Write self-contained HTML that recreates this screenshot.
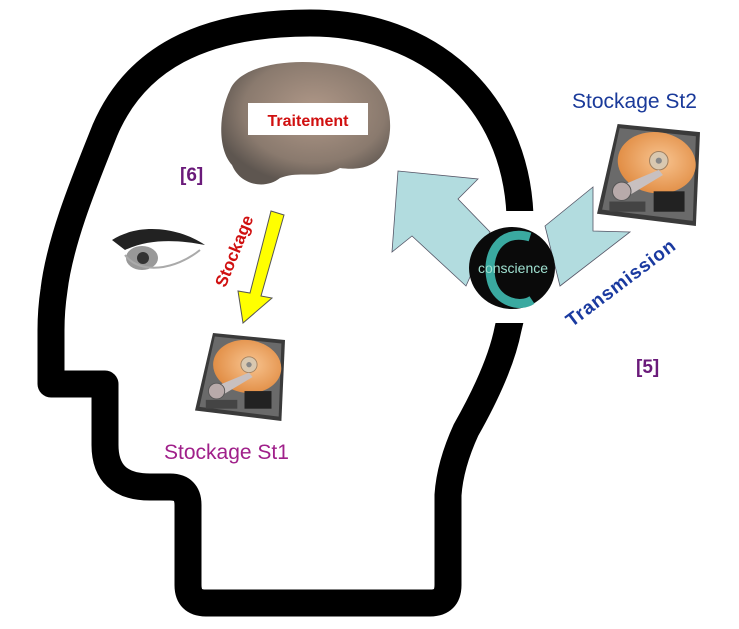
<!DOCTYPE html>
<html><head><meta charset="utf-8"><style>
html,body{margin:0;padding:0;background:#fff;}
svg{display:block;}
text{font-family:"Liberation Sans",Arial,sans-serif;}
</style></head><body>
<svg width="739" height="629" viewBox="0 0 739 629" xmlns="http://www.w3.org/2000/svg">
<defs>
<radialGradient id="pl" cx="0.55" cy="0.45" r="0.6"><stop offset="0" stop-color="#f8c490"/><stop offset="1" stop-color="#e08a40"/></radialGradient>
<radialGradient id="br" cx="0.55" cy="0.4" r="0.6"><stop offset="0" stop-color="#b09888"/><stop offset="0.7" stop-color="#8a7a6e"/><stop offset="1" stop-color="#5e5650"/></radialGradient>
<g id="hdd">
<polygon points="20,0 100,8 96,100 0,88" fill="#3a3a3a"/>
<polygon points="22,4 96,12 93,95 5,84" fill="#6a6a6a"/>
<ellipse cx="58" cy="38" rx="38" ry="30" fill="url(#pl)" transform="rotate(8 58 38)"/>
<circle cx="60" cy="36" r="9" fill="#d9c8b0" stroke="#a08060"/>
<circle cx="60" cy="36" r="3" fill="#888"/>
<polygon points="20,62 60,45 64,50 28,72" fill="#c8c0c0"/>
<circle cx="24" cy="66" r="9" fill="#b8aaaa" stroke="#555"/>
<rect x="55" y="66" width="30" height="20" fill="#222"/>
<rect x="12" y="76" width="35" height="10" fill="#444"/>
</g>
</defs>
<path d="M 310,23 C 200,23 135,60 105,130 C 85,180 60,240 54,290 Q 51,310 51,330 L 51,384 L 105,384 L 105,445 Q 105,487 150,487 L 170,487 Q 188,487 188,505 L 188,585 Q 188,603 206,603 L 430,603 Q 448,603 448,585 L 448,495 Q 450,465 466,430 Q 500,370 508,329 Q 518,290 520,250 L 520,215 C 515,100 430,23 310,23 Z" fill="none" stroke="#000" stroke-width="27" stroke-linejoin="round"/>
<rect x="465" y="211" width="95" height="112" fill="#fff"/>
<polygon points="398,171 478,179 458,199 490,232 466,286 412,236 392,252" fill="#b2dcdf" stroke="#556" stroke-width="0.8"/>
<polygon points="593,187 545,226 560,286 630,232 593,231" fill="#b2dcdf" stroke="#556" stroke-width="0.8"/>
<ellipse cx="512" cy="268" rx="43" ry="41" fill="#0a0a0a"/>
<path d="M 530,237 C 500,228 484,255 492,283 C 498,302 520,308 532,300" fill="none" stroke="#3aa9a0" stroke-width="9"/>
<text x="513" y="273" font-size="14" fill="#9fe0d0" text-anchor="middle">conscience</text>
<path d="M230,90 C240,65 290,58 330,64 C370,68 392,95 390,130 C388,160 370,172 340,168 C320,180 300,170 280,178 C265,190 240,185 232,165 C218,150 218,115 230,90 Z" fill="url(#br)"/>
<rect x="248" y="103" width="120" height="32" fill="#fff"/>
<text x="308" y="126" font-size="16" font-weight="bold" fill="#d01010" text-anchor="middle">Traitement</text>
<text x="180" y="181" font-size="19" font-weight="bold" fill="#6a1a7a">[6]</text>
<text x="636" y="373" font-size="19" font-weight="bold" fill="#6a1a7a">[5]</text>
<path d="M112,240 C140,222 180,228 205,245 C180,240 150,238 125,250 Z" fill="#222"/>
<ellipse cx="142" cy="258" rx="16" ry="12" fill="#999"/>
<circle cx="143" cy="258" r="6" fill="#333"/>
<path d="M125,255 C140,275 175,270 200,250" fill="none" stroke="#aaa" stroke-width="2"/>
<polygon points="271,211 284,215 261,296 272,298 243,323 238,291 250,293" fill="#ffff00" stroke="#555" stroke-width="1"/>
<text transform="translate(234,251) rotate(-68)" font-size="17" font-weight="bold" fill="#d01010" text-anchor="middle" dy="6">Stockage</text>
<use href="#hdd" transform="translate(195,333) scale(0.9,0.88)"/>
<use href="#hdd" transform="translate(597,124) scale(1.03,1.02)"/>
<text x="572" y="108" font-size="21" fill="#1a3a9a">Stockage St2</text>
<text x="164" y="459" font-size="21" fill="#a0208a">Stockage St1</text>
<text transform="translate(621,283) rotate(-37)" font-size="19" font-weight="bold" fill="#1a3aa0" text-anchor="middle" dy="6" letter-spacing="0.8">Transmission</text>
</svg>
</body></html>
